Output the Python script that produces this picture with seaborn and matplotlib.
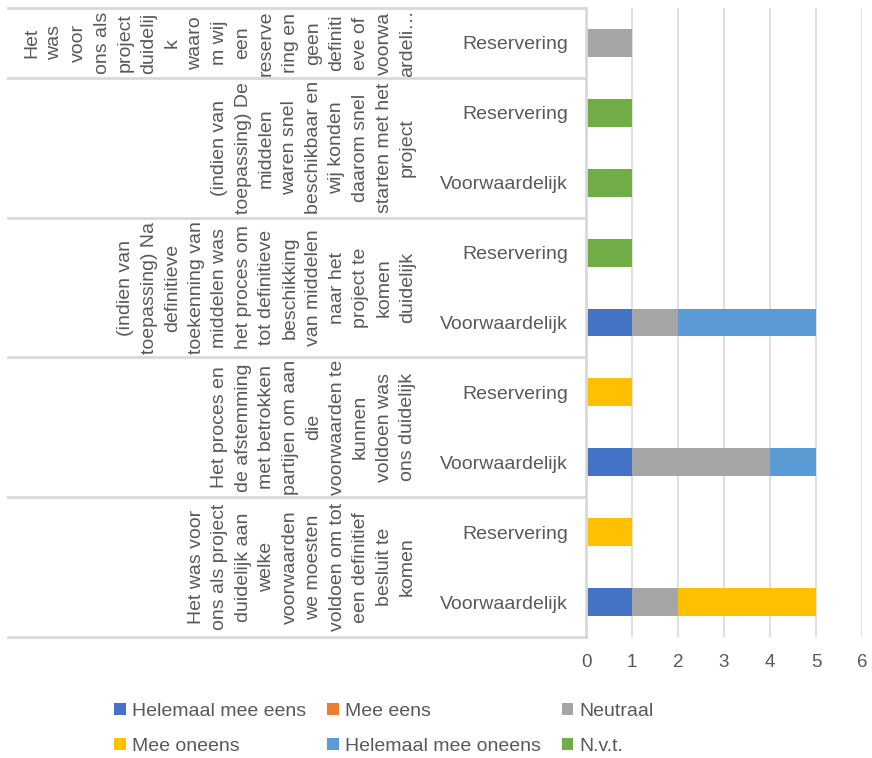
import seaborn as sns
import matplotlib.pyplot as plt
from matplotlib.patches import Patch
import matplotlib.transforms as mtransforms

# one entry per bar, top to bottom
rows = ["g5_res", "g4_res", "g4_vw", "g3_res", "g3_vw",
        "g2_res", "g2_vw", "g1_res", "g1_vw"]
row_labels = ["Reservering", "Reservering", "Voorwaardelijk",
              "Reservering", "Voorwaardelijk", "Reservering",
              "Voorwaardelijk", "Reservering", "Voorwaardelijk"]

# question labels, already wrapped the way the chart shows them
questions = [
    "Het\nwas\nvoor\nons als\nproject\nduidelij\nk\nwaaro\nm wij\neen\nreserve\n"
    "ring en\ngeen\ndefiniti\neve of\nvoorwa\nardeli…",
    "(indien van\ntoepassing) De\nmiddelen\nwaren snel\nbeschikbaar en\n"
    "wij konden\ndaarom snel\nstarten met het\nproject",
    "(indien van\ntoepassing) Na\ndefinitieve\ntoekenning van\nmiddelen was\n"
    "het proces om\ntot definitieve\nbeschikking\nvan middelen\nnaar het\n"
    "project te\nkomen\nduidelijk",
    "Het proces en\nde afstemming\nmet betrokken\npartijen om aan\ndie\n"
    "voorwaarden te\nkunnen\nvoldoen was\nons duidelijk",
    "Het was voor\nons als project\nduidelijk aan\nwelke\nvoorwaarden\n"
    "we moesten\nvoldoen om tot\neen definitief\nbesluit te\nkomen",
]
question_rows = [[0], [1, 2], [3, 4], [5, 6], [7, 8]]

series_names = ["Helemaal mee eens", "Mee eens", "Neutraal",
                "Mee oneens", "Helemaal mee oneens", "N.v.t."]
helemaal_mee_eens = [0, 0, 0, 0, 1, 0, 1, 0, 1]
mee_eens = [0, 0, 0, 0, 0, 0, 0, 0, 0]
neutraal = [1, 0, 0, 0, 1, 0, 3, 0, 1]
mee_oneens = [0, 0, 0, 0, 0, 1, 0, 1, 3]
helemaal_mee_oneens = [0, 0, 0, 0, 3, 0, 1, 0, 0]
nvt = [0, 1, 1, 1, 0, 0, 0, 0, 0]

colors = ["#4472C4", "#ED7D31", "#A5A5A5", "#FFC000", "#5B9BD5", "#70AD47"]
text_color = "#595959"
line_color = "#D9D9D9"


def main():
    plt.rcParams['font.family'] = ['Liberation Sans', 'DejaVu Sans']
    fig = plt.figure(figsize=(8.72, 7.58), dpi=100)
    ax = fig.add_axes([586 / 872, 1 - 637 / 758, 276 / 872, 629 / 758])

    series = [helemaal_mee_eens, mee_eens, neutraal,
              mee_oneens, helemaal_mee_oneens, nvt]

    # stacked bars: draw the running totals back to front
    cum = []
    total = [0] * len(rows)
    for s in series:
        total = [a + b for a, b in zip(total, s)]
        cum.append(total)
    for i in reversed(range(len(series))):
        sns.barplot(x=cum[i], y=rows, order=rows, orient='h',
                    color=colors[i], saturation=1, width=0.4,
                    linewidth=0, errorbar=None, ax=ax)

    ax.set_xlim(0, 6)
    ax.set_ylim(len(rows) - 0.5, -0.5)
    ax.set_xticks(range(0, 7))
    ax.set_yticks(range(len(rows)))
    ax.set_yticklabels(row_labels)
    ax.set_xlabel('')
    ax.set_ylabel('')
    ax.tick_params(axis='y', length=0, pad=13, labelsize=14,
                   labelcolor=text_color)
    ax.tick_params(axis='x', length=0, pad=12, labelsize=13.5,
                   labelcolor=text_color)
    ax.grid(axis='x', color=line_color, linewidth=1.2)
    ax.set_axisbelow(True)
    for side in ['top', 'right', 'bottom']:
        ax.spines[side].set_visible(False)
    ax.spines['left'].set_color(line_color)
    ax.spines['left'].set_linewidth(2)

    # multi level category axis: separators and question texts
    trans = mtransforms.blended_transform_factory(ax.transAxes, ax.transData)
    x_left = (8 - 586) / 276
    for y in [-0.5, 0.5, 2.5, 4.5, 6.5, 8.5]:
        ax.plot([x_left, 0], [y, y], color=line_color, linewidth=2,
                transform=trans, clip_on=False)
    for text, idx in zip(questions, question_rows):
        yc = sum(idx) / len(idx)
        ax.text((416 - 586) / 276, yc, text, transform=trans, rotation=90,
                ha='right', va='center', multialignment='center',
                fontsize=14, linespacing=1.5, color=text_color)

    # legend, filled row by row
    handles = [Patch(facecolor=c, label=n) for c, n in zip(colors, series_names)]
    order = [0, 3, 1, 4, 2, 5]
    fig.legend([handles[i] for i in order], [series_names[i] for i in order],
               ncol=3, loc='upper left', bbox_to_anchor=(114 / 872, 1 - 703 / 758),
               frameon=False, fontsize=14, labelcolor=text_color,
               handlelength=0.6, handleheight=0.6, handletextpad=0.3,
               columnspacing=1.1, labelspacing=0.9, borderpad=0,
               borderaxespad=0)

    plt.savefig('out.png', dpi=100)


if __name__ == "__main__":
    main()
